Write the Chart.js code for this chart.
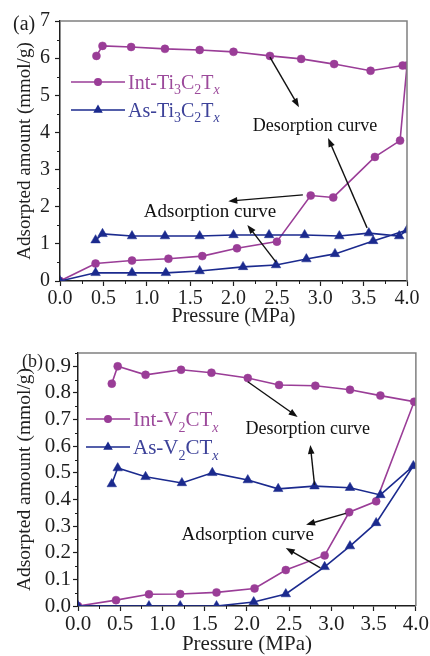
<!DOCTYPE html>
<html>
<head>
<meta charset="utf-8">
<script src="https://cdn.jsdelivr.net/npm/chart.js@4.4.1/dist/chart.umd.min.js"></script>
<style>
  html, body { margin: 0; padding: 0; background: #fff; }
  body { width: 430px; height: 656px; overflow: hidden; position: relative; }
  .panel { position: absolute; left: 0; width: 430px; }
  #wrapA { top: 0; height: 330px; }
  #wrapB { top: 330px; height: 326px; }
</style>
</head>
<body>
<div class="panel" id="wrapA"><canvas id="chartA"></canvas></div>
<div class="panel" id="wrapB"><canvas id="chartB"></canvas></div>
<script>
// ---------------------------------------------------------------------------
// Data (pressure in MPa, adsorbed amount in mmol/g)
// ---------------------------------------------------------------------------

// (a) Ti3C2Tx
const tiIntAdsP = [0, 0.41, 0.83, 1.25, 1.64, 2.04, 2.50, 2.89, 3.15, 3.63, 3.92, 4.00];
const tiIntAdsQ = [0, 0.47, 0.55, 0.60, 0.67, 0.88, 1.06, 2.30, 2.25, 3.34, 3.78, 5.80];
const tiIntDesP = [3.95, 3.58, 3.16, 2.78, 2.42, 2.00, 1.61, 1.21, 0.82, 0.49, 0.42];
const tiIntDesQ = [5.80, 5.66, 5.84, 5.98, 6.06, 6.17, 6.22, 6.25, 6.30, 6.33, 6.06];

const tiAsAdsP = [0, 0.41, 0.83, 1.22, 1.61, 2.11, 2.49, 2.84, 3.17, 3.61, 4.00];
const tiAsAdsQ = [0, 0.22, 0.22, 0.22, 0.27, 0.38, 0.43, 0.59, 0.73, 1.08, 1.37];
const tiAsDesP = [3.91, 3.56, 3.22, 2.82, 2.41, 2.00, 1.61, 1.21, 0.83, 0.49, 0.41];
const tiAsDesQ = [1.21, 1.29, 1.21, 1.24, 1.24, 1.24, 1.21, 1.21, 1.21, 1.27, 1.10];

// (b) V2CTx
const vIntAdsP = [0, 0.45, 0.84, 1.21, 1.64, 2.09, 2.46, 2.92, 3.21, 3.53, 3.98];
const vIntAdsQ = [0, 0.022, 0.044, 0.045, 0.051, 0.066, 0.135, 0.19, 0.352, 0.393, 0.767];
const vIntDesP = [3.58, 3.22, 2.81, 2.38, 2.01, 1.58, 1.22, 0.80, 0.47, 0.40];
const vIntDesQ = [0.79, 0.812, 0.827, 0.83, 0.856, 0.876, 0.887, 0.868, 0.90, 0.835];

const vAsAdsP = [0, 0.84, 1.21, 1.64, 2.08, 2.46, 2.92, 3.22, 3.53, 3.97];
const vAsAdsQ = [0, 0, 0, 0, 0.015, 0.045, 0.147, 0.225, 0.312, 0.526];
const vAsDesP = [3.58, 3.22, 2.80, 2.37, 2.01, 1.59, 1.23, 0.80, 0.47, 0.40];
const vAsDesQ = [0.417, 0.444, 0.45, 0.44, 0.473, 0.50, 0.462, 0.485, 0.518, 0.458];

// Axis ticks
const pressureTicks = [0, 0.5, 1, 1.5, 2, 2.5, 3, 3.5, 4];
const tiAmountTicks = [0, 1, 2, 3, 4, 5, 6, 7];
const vAmountTicks  = [0, 0.1, 0.2, 0.3, 0.4, 0.5, 0.6, 0.7, 0.8, 0.9];

// ---------------------------------------------------------------------------
// Styles
// ---------------------------------------------------------------------------

const SERIF = "'Liberation Serif', 'Times New Roman', serif";
const PURPLE = '#9a3d97';
const BLUE = '#1b2a8e';
const PURPLE_TEXT = '#9c4a9b';
const BLUE_TEXT = '#3d4299';
const AXIS = '#1e1e1e';

function points(ps, qs) {
  return ps.map((p, i) => ({ x: p, y: qs[i] }));
}

// one dataset per material: adsorption branch, then desorption branch back
function isotherm(label, adsP, adsQ, desP, desQ, color, shape) {
  return {
    label,
    data: points(adsP, adsQ).concat(points(desP, desQ)),
    showLine: true,
    borderColor: color,
    borderWidth: 1.6,
    backgroundColor: color,
    pointBackgroundColor: color,
    pointBorderColor: color,
    pointBorderWidth: 0.5,
    pointStyle: shape,
    pointRadius: shape === 'triangle' ? 5.5 : 4,
    tension: 0,
  };
}

// text with sub-scripts: parts = [[text, kind]], kind '' | 's' | 'si'
function drawRich(ctx, parts, x, y, size, color) {
  let cx = x;
  ctx.fillStyle = color;
  ctx.textAlign = 'left';
  ctx.textBaseline = 'alphabetic';
  for (const [t, k] of parts) {
    const sub = k.includes('s');
    const italic = k.includes('i');
    const fs = sub ? Math.round(size * 0.68) : size;
    ctx.font = `${italic ? 'italic ' : ''}${fs}px ${SERIF}`;
    ctx.fillText(t, cx, y + (sub ? size * 0.27 : 0));
    cx += ctx.measureText(t).width;
  }
}

function arrow(ctx, x1, y1, x2, y2) {
  const ang = Math.atan2(y2 - y1, x2 - x1);
  const L = 9, W = 3.3;
  const c = Math.cos(ang), s = Math.sin(ang);
  ctx.beginPath();
  ctx.moveTo(x1, y1);
  ctx.lineTo(x2 - c * L * 0.7, y2 - s * L * 0.7);
  ctx.stroke();
  ctx.beginPath();
  ctx.moveTo(x2, y2);
  ctx.lineTo(x2 - L * c + W * s, y2 - L * s - W * c);
  ctx.lineTo(x2 - L * c - W * s, y2 - L * s + W * c);
  ctx.closePath();
  ctx.fill();
}

// ---------------------------------------------------------------------------
// Plugins: frame + minor ticks, legend, annotations
// ---------------------------------------------------------------------------

const framePlugin = {
  id: 'frame',
  afterDraw(chart, args, opts) {
    const { ctx, chartArea: a, scales: { x, y } } = chart;
    ctx.save();
    ctx.strokeStyle = '#808080';
    ctx.lineWidth = 1.5;
    ctx.beginPath();
    ctx.moveTo(a.left, a.top);
    ctx.lineTo(a.right, a.top);
    ctx.lineTo(a.right, a.bottom);
    ctx.stroke();

    ctx.strokeStyle = AXIS;
    ctx.lineWidth = 1;
    for (let k = 0; opts.xMinor * (2 * k + 1) < x.max; k++) {
      const px = Math.round(x.getPixelForValue(opts.xMinor * (2 * k + 1))) + 0.5;
      ctx.beginPath();
      ctx.moveTo(px, a.bottom);
      ctx.lineTo(px, a.bottom + 3);
      ctx.stroke();
    }
    for (let k = 0; opts.yMinor * (2 * k + 1) <= y.max + 1e-9; k++) {
      const py = Math.round(y.getPixelForValue(opts.yMinor * (2 * k + 1))) + 0.5;
      ctx.beginPath();
      ctx.moveTo(a.left, py);
      ctx.lineTo(a.left - 3, py);
      ctx.stroke();
    }

    // panel label
    ctx.fillStyle = AXIS;
    ctx.font = `${opts.tagSize}px ${SERIF}`;
    ctx.textAlign = 'left';
    ctx.textBaseline = 'middle';
    ctx.fillText(opts.tag, opts.tagX, opts.tagY);
    ctx.restore();
  },
};

const legendPlugin = {
  id: 'richLegend',
  afterDatasetsDraw(chart, args, opts) {
    const { ctx } = chart;
    ctx.save();
    opts.items.forEach((item, i) => {
      const ds = chart.data.datasets[item.dataset];
      const rowY = opts.y + i * opts.rowGap;
      ctx.strokeStyle = ds.borderColor;
      ctx.lineWidth = 1.6;
      ctx.beginPath();
      ctx.moveTo(opts.x, rowY);
      ctx.lineTo(opts.x + opts.lineLen, rowY);
      ctx.stroke();
      ctx.fillStyle = ds.pointBackgroundColor;
      Chart.helpers.drawPoint(ctx, {
        pointStyle: ds.pointStyle, radius: ds.pointRadius, borderWidth: 0, rotation: 0,
      }, opts.x + opts.lineLen / 2, rowY);
      drawRich(ctx, item.parts, opts.x + opts.lineLen + 3, rowY + opts.size * 0.33, opts.size, item.color);
    });
    ctx.restore();
  },
};

const notePlugin = {
  id: 'notes',
  afterDatasetsDraw(chart, args, opts) {
    const { ctx, scales: { x, y } } = chart;
    ctx.save();
    ctx.fillStyle = '#111';
    ctx.strokeStyle = '#111';
    ctx.lineWidth = 1.4;
    opts.arrows.forEach(([p1, q1, p2, q2]) => {
      arrow(ctx, x.getPixelForValue(p1), y.getPixelForValue(q1),
                 x.getPixelForValue(p2), y.getPixelForValue(q2));
    });
    ctx.textAlign = 'center';
    ctx.textBaseline = 'middle';
    opts.labels.forEach(l => {
      ctx.font = `${l.size}px ${SERIF}`;
      ctx.fillText(l.text, x.getPixelForValue(l.p), y.getPixelForValue(l.q));
    });
    ctx.restore();
  },
};

// ---------------------------------------------------------------------------
// Chart factory
// ---------------------------------------------------------------------------

function makeChart(canvasId, cfg) {
  const tickFont = { family: SERIF, size: cfg.fontSize };
  return new Chart(document.getElementById(canvasId), {
    type: 'scatter',
    data: { datasets: cfg.datasets },
    plugins: [framePlugin, legendPlugin, notePlugin],
    options: {
      responsive: true,
      maintainAspectRatio: false,
      animation: false,
      devicePixelRatio: 1,
      events: [],
      layout: { padding: cfg.padding },
      plugins: {
        legend: { display: false },
        tooltip: { enabled: false },
        frame: cfg.frame,
        richLegend: cfg.legend,
        notes: cfg.notes,
      },
      scales: {
        x: {
          type: 'linear',
          min: 0,
          max: 4,
          afterBuildTicks: s => { s.ticks = pressureTicks.map(v => ({ value: v })); },
          ticks: { font: tickFont, color: AXIS, padding: 1, maxRotation: 0, autoSkip: false, callback: v => v.toFixed(1) },
          grid: { drawOnChartArea: false, drawTicks: true, tickLength: 5, tickColor: AXIS, tickWidth: 1.2 },
          border: { color: AXIS, width: 1.5 },
          title: {
            display: true, text: 'Pressure (MPa)', color: AXIS,
            font: { family: SERIF, size: cfg.fontSize, lineHeight: 1 },
            padding: { top: 0, bottom: cfg.xTitlePad },
          },
          afterFit: s => { s.height = cfg.xHeight; },
        },
        y: {
          type: 'linear',
          min: 0,
          max: cfg.yMax,
          afterBuildTicks: s => { s.ticks = cfg.yTicks.map(v => ({ value: v })); },
          ticks: { font: tickFont, color: AXIS, padding: cfg.yTickPad, autoSkip: false, callback: cfg.yFormat },
          grid: { drawOnChartArea: false, drawTicks: true, tickLength: 5, tickColor: AXIS, tickWidth: 1.2 },
          border: { color: AXIS, width: 1.5 },
          title: {
            display: true, text: 'Adsorpted amount (mmol/g)', color: AXIS,
            font: { family: SERIF, size: cfg.yTitleSize, lineHeight: 1 },
            padding: { top: cfg.yTitlePad, bottom: 0 },
          },
          afterFit: s => { s.width = cfg.yWidth; },
        },
      },
    },
  });
}

// (a) Ti3C2Tx
makeChart('chartA', {
  datasets: [
    isotherm('As-Ti3C2Tx', tiAsAdsP, tiAsAdsQ, tiAsDesP, tiAsDesQ, BLUE, 'triangle'),
    isotherm('Int-Ti3C2Tx', tiIntAdsP, tiIntAdsQ, tiIntDesP, tiIntDesQ, PURPLE, 'circle'),
  ],
  fontSize: 20,
  yTitleSize: 19,
  padding: { top: 21, right: 23, left: 0, bottom: 0 },
  xHeight: 49,
  yWidth: 60,
  xTitlePad: 3,
  yTitlePad: 15.5,
  yTickPad: 5,
  yMax: 7,
  yTicks: tiAmountTicks,
  yFormat: v => v.toFixed(0),
  frame: { xMinor: 0.25, yMinor: 0.5, tag: '(a)', tagX: 13, tagY: 25, tagSize: 20 },
  legend: {
    x: 71, y: 82, rowGap: 28, lineLen: 54, size: 20,
    items: [
      { dataset: 1, color: PURPLE_TEXT, parts: [['Int-Ti', ''], ['3', 's'], ['C', ''], ['2', 's'], ['T', ''], ['x', 'si']] },
      { dataset: 0, color: BLUE_TEXT, parts: [['As-Ti', ''], ['3', 's'], ['C', ''], ['2', 's'], ['T', ''], ['x', 'si']] },
    ],
  },
  notes: {
    labels: [
      { text: 'Desorption curve', p: 2.94, q: 4.17, size: 18 },
      { text: 'Adsorption curve', p: 1.73, q: 1.86, size: 19 },
    ],
    arrows: [
      [2.42, 6.03, 2.755, 4.68],
      [3.54, 1.43, 3.09, 3.85],
      [2.80, 2.32, 1.94, 2.15],
      [2.49, 0.51, 2.16, 1.51],
    ],
  },
});

// (b) V2CTx
makeChart('chartB', {
  datasets: [
    isotherm('As-V2CTx', vAsAdsP, vAsAdsQ, vAsDesP, vAsDesQ, BLUE, 'triangle'),
    isotherm('Int-V2CTx', vIntAdsP, vIntAdsQ, vIntDesP, vIntDesQ, PURPLE, 'circle'),
  ],
  fontSize: 21,
  yTitleSize: 19.5,
  padding: { top: 23, right: 13, left: 0, bottom: 0 },
  xHeight: 50,
  yWidth: 78,
  xTitlePad: 1,
  yTitlePad: 15,
  yTickPad: 2,
  yMax: 0.95,
  yTicks: vAmountTicks,
  yFormat: v => v.toFixed(1),
  frame: { xMinor: 0.25, yMinor: 0.05, tag: '(b)', tagX: 22, tagY: 32, tagSize: 18 },
  legend: {
    x: 86, y: 89, rowGap: 28, lineLen: 44, size: 21,
    items: [
      { dataset: 1, color: PURPLE_TEXT, parts: [['Int-V', ''], ['2', 's'], ['CT', ''], ['x', 'si']] },
      { dataset: 0, color: BLUE_TEXT, parts: [['As-V', ''], ['2', 's'], ['CT', ''], ['x', 'si']] },
    ],
  },
  notes: {
    labels: [
      { text: 'Desorption curve', p: 2.72, q: 0.662, size: 18 },
      { text: 'Adsorption curve', p: 2.01, q: 0.267, size: 19 },
    ],
    arrows: [
      [2.01, 0.842, 2.60, 0.71],
      [2.80, 0.455, 2.75, 0.605],
      [3.17, 0.348, 2.70, 0.305],
      [2.87, 0.143, 2.46, 0.218],
    ],
  },
});
</script>
</body>
</html>
